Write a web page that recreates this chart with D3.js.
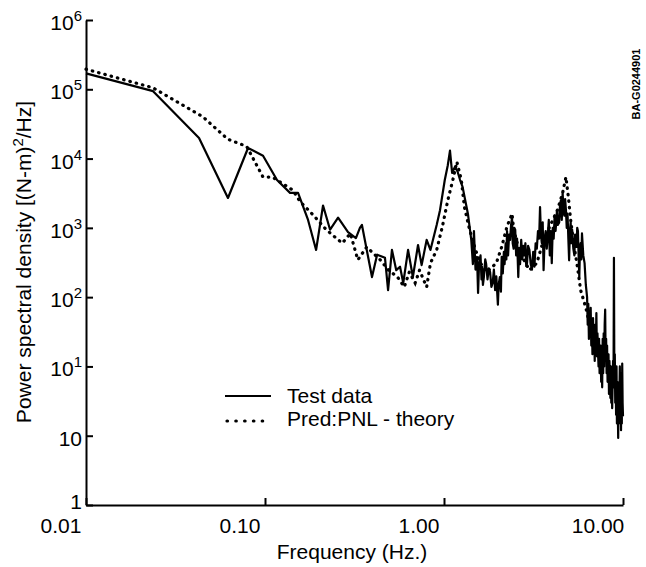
<!DOCTYPE html>
<html>
<head>
<meta charset="utf-8">
<script src="https://cdn.jsdelivr.net/npm/d3@7"></script>
<style>
  body { margin: 0; background: #fff; }
  text { font-family: "Liberation Sans", Arial, Helvetica, sans-serif; fill: #000; }
</style>
</head>
<body>
<div id="chart"></div>
<script>
// tick values and their printed labels (as on the original figure)
var xTickVals = [0.01, 0.1, 1, 10];
var xTickLabels = ["0.01", "0.10", "1.00", "10.00"];
var yTickVals = [0.1, 1, 10, 100, 1e3, 1e4, 1e5, 1e6];
var yTickBase = ["1", "10", "10", "10", "10", "10", "10", "10"];
var yTickExp = ["", "", "1", "2", "3", "4", "5", "6"];

// Test data (solid)
var testFreq = [0.01, 0.0237, 0.0428, 0.0621, 0.0804, 0.0975, 0.1167, 0.138, 0.153, 0.174,
  0.193, 0.211, 0.231, 0.256, 0.291, 0.322, 0.339, 0.348, 0.396, 0.423,
  0.468, 0.487, 0.512, 0.541, 0.568, 0.592, 0.63, 0.67, 0.716, 0.75,
  0.8, 0.84, 0.91, 0.95, 1.01, 1.05, 1.08, 1.11, 1.15, 1.19,
  1.23, 1.27, 1.36, 1.42, 1.45, 1.47, 1.5, 1.53, 1.55, 1.57,
  1.6, 1.62, 1.63, 1.65, 1.67, 1.7, 1.72, 1.75, 1.78, 1.81,
  1.84, 1.87, 1.9, 1.93, 1.96, 2.0, 2.02, 2.05, 2.08, 2.1,
  2.13, 2.16, 2.18, 2.21, 2.23, 2.25, 2.28, 2.31, 2.34, 2.37,
  2.4, 2.42, 2.45, 2.47, 2.5, 2.53, 2.56, 2.6, 2.63, 2.66,
  2.7, 2.74, 2.77, 2.8, 2.85, 2.88, 2.91, 2.95, 3.0, 3.05,
  3.1, 3.15, 3.2, 3.25, 3.3, 3.35, 3.4, 3.44, 3.48, 3.52,
  3.56, 3.6, 3.65, 3.7, 3.75, 3.8, 3.85, 3.9, 3.95, 4.0,
  4.05, 4.1, 4.15, 4.2, 4.28, 4.32, 4.4, 4.45, 4.5, 4.55,
  4.6, 4.65, 4.7, 4.75, 4.8, 4.85, 4.9, 4.95, 5.0, 5.05,
  5.1, 5.15, 5.2, 5.28, 5.35, 5.4, 5.5, 5.55, 5.6, 5.65,
  5.7, 5.75, 5.8, 5.85, 5.9, 6.0, 6.1, 6.2, 6.3, 6.35,
  6.4, 6.45, 6.5, 6.55, 6.6, 6.65, 6.7, 6.75, 6.8, 6.85,
  6.9, 6.95, 7.0, 7.05, 7.1, 7.15, 7.2, 7.3, 7.35, 7.4,
  7.5, 7.55, 7.6, 7.65, 7.7, 7.75, 7.8, 7.85, 7.9, 7.95,
  8.0, 8.05, 8.1, 8.15, 8.2, 8.3, 8.35, 8.4, 8.5, 8.55,
  8.6, 8.65, 8.7, 8.8, 8.85, 8.9, 8.95, 9.0, 9.05, 9.1,
  9.15, 9.2, 9.25, 9.3, 9.4, 9.45, 9.5, 9.6, 9.65, 9.7,
  9.75, 9.8, 9.85, 9.9, 9.95, 10];
var testPSD = [1.7e5, 9.4e4, 1.98e4, 2.7e3, 1.42e4, 1.1e4, 4.9e3, 3.2e3, 3.2e3, 1.3e3,
  480, 2100, 940, 1400, 870, 710, 1000, 1100, 195, 410,
  370, 126, 480, 245, 275, 160, 480, 195, 565, 290,
  670, 480, 1100, 1800, 4900, 8000, 13000, 6200, 7600, 6500,
  4900, 3900, 1600, 670, 300, 900, 250, 380, 115, 300,
  400, 180, 275, 150, 195, 350, 300, 180, 260, 230,
  140, 160, 250, 126, 200, 78, 150, 195, 120, 380,
  220, 450, 300, 600, 350, 900, 400, 800, 670, 1100,
  1400, 600, 500, 1000, 940, 400, 700, 195, 500, 300,
  670, 350, 550, 400, 600, 280, 310, 550, 480, 300,
  250, 450, 275, 600, 500, 900, 700, 2000, 800, 600,
  1200, 245, 700, 900, 500, 780, 1300, 400, 900, 310,
  1000, 700, 1500, 900, 1800, 1100, 1200, 2200, 2500, 1300,
  3200, 1800, 1500, 2600, 1800, 1000, 1600, 700, 340, 900,
  1200, 600, 940, 500, 400, 800, 530, 1000, 900, 400,
  195, 500, 600, 350, 830, 400, 310, 150, 100, 40,
  80, 25, 60, 30, 70, 20, 45, 15, 50, 18,
  35, 12, 40, 20, 59, 14, 30, 10, 25, 8,
  20, 6, 15, 5, 25, 8, 30, 10, 40, 66,
  12, 25, 8, 20, 6, 15, 4, 12, 3.5, 10,
  3, 8, 2.5, 12, 5, 370, 6, 15, 3, 8,
  2, 10, 1.5, 6, 0.93, 5, 1.5, 10, 2, 8,
  1.2, 6, 1.5, 11, 3, 1.9];

// Pred:PNL - theory (dotted)
var predFreq = [0.01, 0.0237, 0.045, 0.062, 0.079, 0.0975, 0.11, 0.143, 0.157, 0.185,
  0.22, 0.27, 0.3, 0.33, 0.37, 0.44, 0.49, 0.55, 0.6, 0.64,
  0.69, 0.73, 0.8, 0.84, 0.91, 0.98, 1.05, 1.12, 1.18, 1.25,
  1.3, 1.39, 1.5, 1.6, 1.73, 1.96, 2.1, 2.25, 2.4, 2.45,
  2.6, 2.8, 3.0, 3.3, 3.6, 3.9, 4.3, 4.6, 4.8, 4.95,
  5.1, 5.3, 5.6, 5.8, 6.2, 6.6];
var predPSD = [1.95e5, 1.05e5, 4.0e4, 1.9e4, 1.5e4, 5.4e3, 5.4e3, 3.5e3, 2.4e3, 1.55e3,
  940, 600, 830, 345, 530, 345, 245, 195, 140, 230,
  160, 245, 140, 310, 480, 1050, 2500, 4900, 9000, 4900,
  2000, 940, 480, 310, 230, 310, 530, 1050, 1600, 940,
  530, 345, 245, 310, 670, 1050, 1800, 3200, 5400, 2800,
  1300, 600, 245, 126, 70, 35];

var W = 646, H = 567;
var svg = d3.select("#chart").append("svg").attr("width", W).attr("height", H);

var x = d3.scaleLog().domain([0.01, 10]).range([86, 623]);
var y = d3.scaleLog().domain([0.1, 1e6]).range([505, 20]);

// axes
svg.append("g").attr("transform", "translate(0,505)")
  .call(d3.axisBottom(x).tickValues(xTickVals).tickSize(-7).tickSizeOuter(0).tickFormat(""));
svg.append("g").attr("transform", "translate(86,0)")
  .call(d3.axisLeft(y).tickValues(yTickVals).tickSize(-7).tickSizeOuter(0).tickFormat(""));
svg.selectAll(".domain, .tick line").attr("stroke", "#000").attr("stroke-width", 2);

// x tick labels
svg.selectAll(".xlab").data(xTickVals).enter().append("text")
  .attr("class", "xlab")
  .attr("x", function (d) { return x(d) - 25; })
  .attr("y", 533)
  .attr("text-anchor", "middle")
  .style("font-size", "21px")
  .text(function (d, i) { return xTickLabels[i]; });

// y tick labels with superscript exponents
var ylab = svg.selectAll(".ylab").data(yTickVals).enter().append("text")
  .attr("class", "ylab")
  .attr("x", 82)
  .attr("y", function (d, i) { return y(d) + (i === 0 ? 4 : 10); })
  .attr("text-anchor", "end")
  .style("font-size", "21px");
ylab.append("tspan").text(function (d, i) { return yTickBase[i]; });
ylab.append("tspan")
  .attr("dy", -9)
  .style("font-size", "15px")
  .text(function (d, i) { return yTickExp[i]; });

// axis titles
svg.append("text")
  .attr("x", 352).attr("y", 559)
  .attr("text-anchor", "middle")
  .style("font-size", "21px")
  .text("Frequency (Hz.)");

var yt = svg.append("text")
  .attr("transform", "translate(31,262) rotate(-90)")
  .attr("text-anchor", "middle")
  .style("font-size", "21px");
yt.append("tspan").text("Power spectral density [(N-m)");
yt.append("tspan").attr("dy", -8).style("font-size", "15px").text("2");
yt.append("tspan").attr("dy", 8).text("/Hz]");

// side code
svg.append("text")
  .attr("transform", "translate(640,84) rotate(-90)")
  .attr("text-anchor", "middle")
  .style("font-size", "11px")
  .style("font-weight", "bold")
  .text("BA-G0244901");

// lines
var line = d3.line()
  .x(function (d) { return x(d[0]); })
  .y(function (d) { return y(d[1]); });

svg.append("path").datum(d3.zip(predFreq, predPSD))
  .attr("d", line)
  .attr("fill", "none")
  .attr("stroke", "#000")
  .attr("stroke-width", 3.2)
  .attr("stroke-linecap", "round")
  .attr("stroke-dasharray", "0.5,6");

svg.append("path").datum(d3.zip(testFreq, testPSD))
  .attr("d", line)
  .attr("fill", "none")
  .attr("stroke", "#000")
  .attr("stroke-width", 2.2)
  .attr("stroke-linejoin", "round");

// legend
var legendData = [
  { label: "Test data", dash: null },
  { label: "Pred:PNL - theory", dash: "0.5,8.3" }
];
var lg = svg.append("g");
lg.selectAll("line").data(legendData).enter().append("line")
  .attr("x1", function (d) { return d.dash ? 227 : 225; })
  .attr("x2", 271)
  .attr("y1", function (d, i) { return 396 + i * 25; })
  .attr("y2", function (d, i) { return 396 + i * 25; })
  .attr("stroke", "#000")
  .attr("stroke-width", function (d) { return d.dash ? 3.2 : 2; })
  .attr("stroke-linecap", function (d) { return d.dash ? "round" : "butt"; })
  .attr("stroke-dasharray", function (d) { return d.dash; });
lg.selectAll("text").data(legendData).enter().append("text")
  .attr("x", 287)
  .attr("y", function (d, i) { return 403 + i * 23; })
  .style("font-size", "21px")
  .text(function (d) { return d.label; });
</script>
</body>
</html>
